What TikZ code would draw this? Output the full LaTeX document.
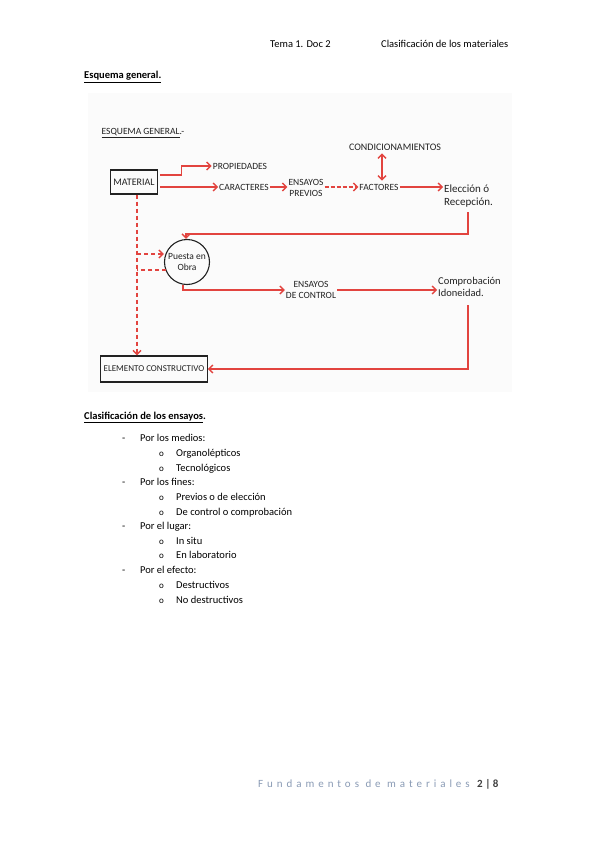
\documentclass[tikz,border=0pt]{standalone}
\usepackage{fontspec}
\setmainfont{Carlito}
\usetikzlibrary{arrows.meta, positioning, calc}
\definecolor{pagered}{HTML}{E2443F}
\definecolor{pageink}{HTML}{222222}
\definecolor{footblue}{HTML}{8A9BB5}
\definecolor{footdark}{HTML}{404040}

\begin{document}
\begin{tikzpicture}[x=1pt, y=-1pt,
    redline/.style={draw=pagered, line width=1.4pt},
    redarrow/.style={redline, -{Straight Barb[length=4pt,width=8pt]}},
    hand/.style={font=\fontsize{9.5}{10.5}\selectfont, pageink, align=center, inner sep=1pt},
    handbox/.style={hand, draw=pageink, line width=1.2pt, inner sep=3pt},
    pagetext/.style={anchor=base west, font=\fontsize{10.5}{12}\selectfont, inner sep=0pt}]

  \useasboundingbox (0,0) rectangle (599,848);
  \fill[white] (0,0) rectangle (599,848);

  % header
  \node[pagetext] (hdrtema) at (270,48) {Tema 1. Doc 2};
  \node[pagetext] (hdrclase) at (381,48) {Clasificación de los materiales};
  \node[pagetext, font=\fontsize{10.5}{12}\selectfont\bfseries] (secesquema) at (84,79) {\underline{Esquema general.}};

  % scanned sketch
  \fill[black!1.5] (88,93) rectangle (512,392);
  \node[hand] (titulo) at (143,133) {\underline{ESQUEMA GENERAL}.-};
  \node[handbox, font=\fontsize{10}{11}\selectfont, minimum height=24pt] (material) at (134,182) {MATERIAL};
  \node[hand] (propiedades) at (240,166) {PROPIEDADES};
  \node[hand] (caracteres) at (244,187) {CARACTERES};
  \node[hand] (previos) at (306,188) {ENSAYOS\\PREVIOS};
  \node[hand] (factores) at (379,187) {FACTORES};
  \node[hand, font=\fontsize{10}{11}\selectfont] (condic) at (395,147) {CONDICIONAMIENTOS};
  \node[hand, font=\fontsize{11}{13}\selectfont, align=left, anchor=west] (eleccion) at (443,196) {Elección ó\\Recepción.};
  \node[hand, circle, draw=pageink, line width=1.1pt, minimum size=45pt, inner sep=0pt] (obra) at (187,262) {Puesta en\\Obra};
  \node[hand] (control) at (311,290) {ENSAYOS\\DE CONTROL};
  \node[hand, font=\fontsize{10.5}{12.5}\selectfont, align=left, anchor=west] (comprob) at (437,287) {Comprobación\\Idoneidad.};
  \node[handbox, font=\fontsize{9}{10}\selectfont, minimum height=26pt] (elemento) at (154,369) {ELEMENTO CONSTRUCTIVO};

  \coordinate (bajada) at ($(material.south)+(3,0)$);
  \coordinate (retorno) at (186,234);
  \coordinate (subida) at (468,212);
  \coordinate (vuelta) at (468,305);
  \coordinate (entrada) at (137,254);
  \coordinate (salida) at (166,270);

  \draw[redarrow] ($(material.east)+(2,-7)$) -- ++(21,0) |- (propiedades.west);
  \draw[redarrow] ($(material.east)+(2,5)$) -- (caracteres.west);
  \draw[redarrow] (caracteres.east) -- (caracteres.east -| previos.west);
  \draw[redarrow, dash pattern=on 4pt off 2pt] (previos.east |- factores) -- (factores.west);
  \draw[redline, {Straight Barb[length=4pt,width=8pt]}-{Straight Barb[length=4pt,width=8pt]}]
    ($(factores.north)+(3,-2)$) -- ($(condic.south)+(-13,2)$);
  \draw[redarrow] (factores.east) -- (factores.east -| eleccion.west);
  \draw[redarrow] (subida) |- (retorno) -- (retorno |- obra.north);

  \draw[redarrow, dash pattern=on 4pt off 3pt] (bajada) -- (bajada |- elemento.north);
  \draw[redarrow, dash pattern=on 4pt off 3pt] (entrada) -- (entrada -| obra.west);
  \draw[redline, dash pattern=on 4pt off 3pt] (salida) -- (salida -| bajada);
  \draw[redarrow] ($(obra.south)+(-4,0)$) |- (control.west);
  \draw[redarrow] (control.east) -- (control.east -| comprob.west);
  \draw[redarrow] (vuelta) |- (elemento.east);

  % classification
  \node[pagetext, font=\fontsize{10.5}{12}\selectfont\bfseries] (secensayos) at (84,419) {\underline{Clasificación de los ensayos}.};
  \foreach \y/\txt [count=\k] in {441/Por los medios:, 485/Por los fines:, 529/Por el lugar:, 573/Por el efecto:}{
    \node[pagetext] (guion\k) at (122,\y) {-};
    \node[pagetext] (grupo\k) at (140,\y) {\txt};
  }
  \foreach \y/\txt [count=\k] in {456/Organolépticos, 471/Tecnológicos, 500/Previos o de elección,
      515/De control o comprobación, 544/In situ, 558/En laboratorio, 588/Destructivos, 603/No destructivos}{
    \node[pagetext, font=\fontsize{9}{10}\selectfont] (bolo\k) at (159,\y) {o};
    \node[pagetext] (tipo\k) at (176,\y) {\txt};
  }

  % footer
  \node[pagetext, font=\fontsize{11}{13}\selectfont\addfontfeatures{LetterSpace=36}, footblue] (pie) at (258,787) {Fundamentos de materiales};
  \node[pagetext, font=\fontsize{11}{13}\selectfont\bfseries, footdark] (pagina) at (477,787) {2 | 8};
\end{tikzpicture}
\end{document}
